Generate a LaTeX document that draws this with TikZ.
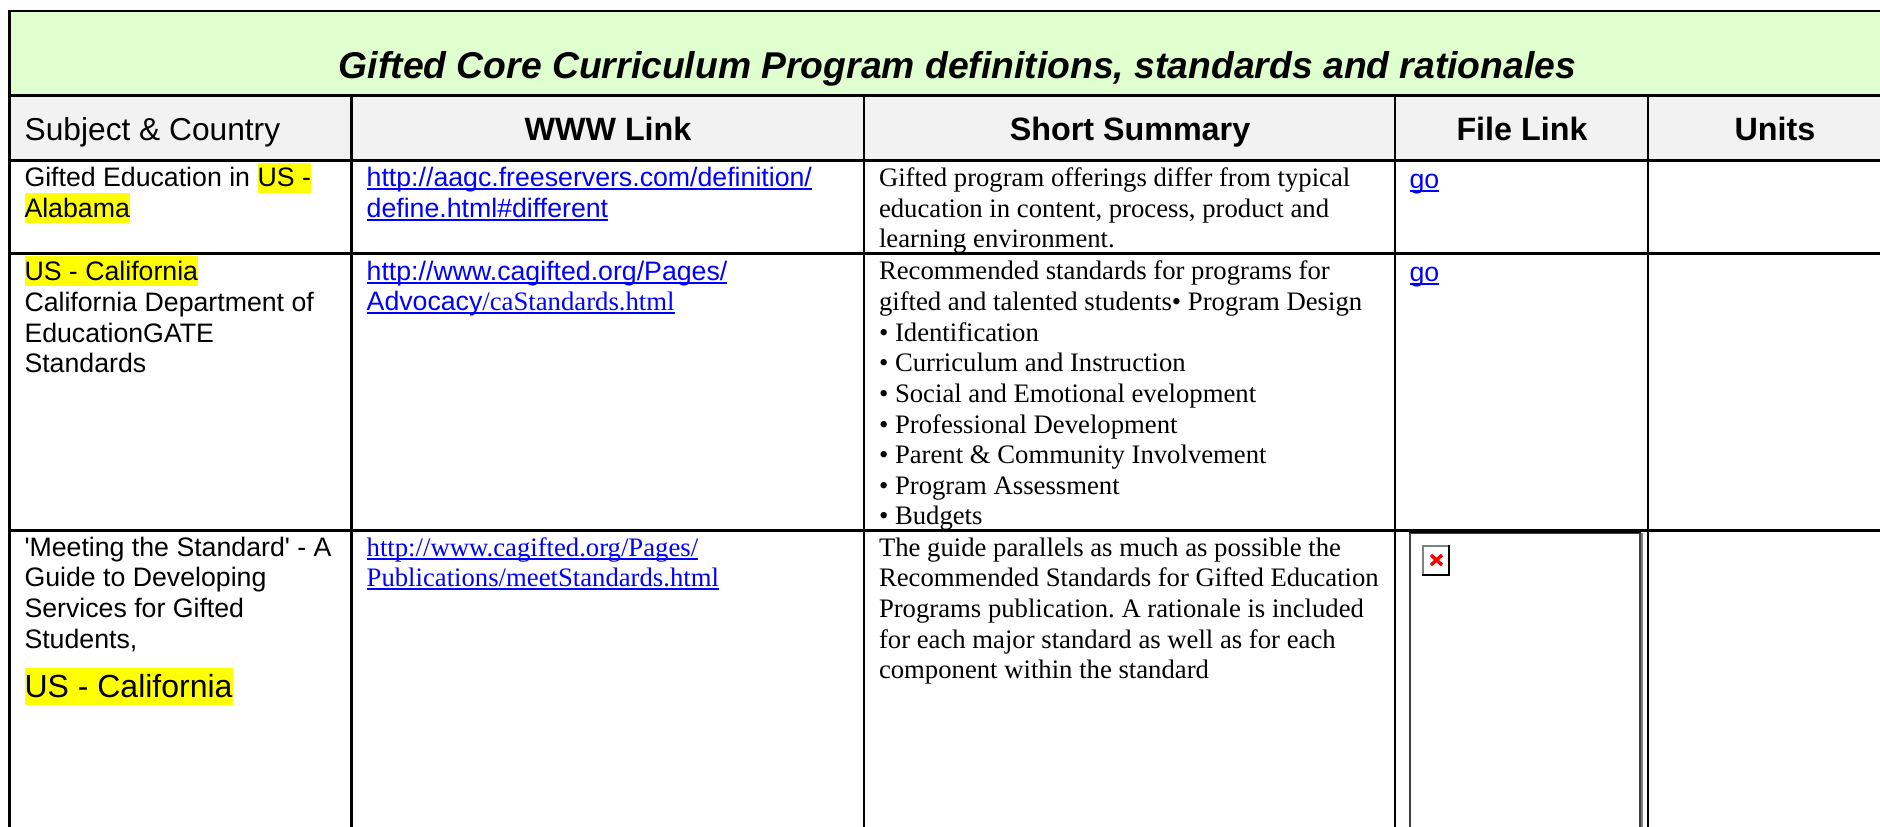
\documentclass[tikz,border=0pt]{standalone}
\usepackage{fontspec}
\setmainfont{Liberation Sans}
\newfontfamily\serifface{Liberation Serif}
\newfontfamily\plainsans{Liberation Sans}
\definecolor{titlegreen}{HTML}{DFFFCF}
\definecolor{headgray}{HTML}{F2F2F2}
\definecolor{linkblue}{HTML}{0000FF}
\definecolor{mark}{HTML}{FFFF00}
\newlength{\myw}
\frenchspacing
\newcommand{\fsz}[1]{\fontsize{#1}{#1}\selectfont}
% underlined link text
\newcommand{\lnk}[1]{\setbox0=\hbox{#1}\myw=\wd0\leavevmode\rlap{\box0}\raisebox{-3.6pt}{\rule{\myw}{2pt}}}
% yellow highlight
\newcommand{\hlt}[3]{\setbox0=\hbox{#1}\myw=\wd0\leavevmode\rlap{\textcolor{mark}{\raisebox{-#2pt}{\rule{\myw}{#3pt}}}}\box0}
\tikzset{
  x=1pt,y=-1pt,
  rule/.style={line width=2.8pt,black},
  txt/.style={anchor=base west,inner sep=0pt,outer sep=0pt,font=\frenchspacing\fsz{26.7}},
  srf/.style={anchor=base west,inner sep=0pt,outer sep=0pt,font=\frenchspacing\serifface\fsz{26.7}},
  lk/.style={anchor=base west,inner sep=0pt,outer sep=0pt,font=\fsz{26.7},text=linkblue},
  lks/.style={anchor=base west,inner sep=0pt,outer sep=0pt,font=\serifface\fsz{26.7},text=linkblue},
  hd/.style={anchor=base,inner sep=0pt,outer sep=0pt,font=\bfseries\fsz{32.3}},
}
\begin{document}
\begin{tikzpicture}
\useasboundingbox (0,0) rectangle (1880,827);
\fill[white] (0,0) rectangle (1880,827);
\fill[titlegreen] (9.4,11) rectangle (1880,95.7);
\fill[headgray] (9.4,95.7) rectangle (1880,160.7);
% grid
\draw[rule] (9.4,827) -- (9.4,11) -- (1880,11);
\foreach \yy in {95.7,160.7,253.7,530.7} \draw[rule] (9.4,\yy) -- (1880,\yy);
\foreach \xx in {351.6,864,1395,1648} \draw[rule] (\xx,95.7) -- (\xx,827);
% title
\node[anchor=base,inner sep=0pt,font=\bfseries\itshape\fsz{37.3}] (title) at (957.5,78) {Gifted Core Curriculum Program definitions, standards and rationales};
% header
\node[anchor=base west,inner sep=0pt,font=\fsz{31.7}] (h1) at (24.5,140) {Subject \& Country};
\node[hd] (h2) at (608,140) {WWW Link};
\node[hd] (h3) at (1130,140) {Short Summary};
\node[hd] (h4) at (1522,140) {File Link};
\node[hd] (h5) at (1775,140) {Units};
% col 1
\node[txt] (a1) at (24.5,186.5) {Gifted Education in \hlt{US -}{6}{30}};
\node[txt] (a2) at (24.5,217) {\hlt{Alabama}{6}{30}};
\node[txt] (b1) at (24.5,280) {\hlt{US - California}{6}{30}};
\node[txt] (b2) at (24.5,311) {California Department of};
\node[txt] (b3) at (24.5,342.5) {EducationGATE};
\node[txt] (b4) at (24.5,372.5) {Standards};
\node[txt] (c1) at (24.5,556) {{\plainsans'}Meeting the Standard{\plainsans'} - A};
\node[txt] (c2) at (24.5,586) {Guide to Developing};
\node[txt] (c3) at (24.5,617) {Services for Gifted};
\node[txt] (c4) at (24.5,648) {Students,};
\node[txt,font=\fsz{32}] (c5) at (24.5,697) {\hlt{US - California}{8}{37}};
% col 2
\node[lk] (d1) at (366.7,186.5) {\lnk{http://aagc.freeservers.com/definition/}};
\node[lk] (d2) at (366.7,217) {\lnk{define.html\#different}};
\node[lk] (e1) at (366.7,280) {\lnk{http://www.cagifted.org/Pages/}};
\node[lk] (e2) at (366.7,310.5) {\lnk{Advocacy{\serifface/caStandards.html}}};
\node[lks] (f1) at (366.7,556) {\lnk{http://www.cagifted.org/Pages/}};
\node[lks] (f2) at (366.7,586) {\lnk{Publications/meetStandards.html}};
% col 3
\node[srf] (g1) at (879,186.5) {Gifted program offerings differ from typical};
\node[srf] (g2) at (879,217) {education in content, process, product and};
\node[srf] (g3) at (879,247.5) {learning environment.};
\node[srf] (i1) at (879,279.5) {Recommended standards for programs for};
\node[srf] (i2) at (879,310) {gifted and talented students• Program Design};
\node[srf] (i3) at (879,341) {• Identification};
\node[srf] (i4) at (879,371.5) {• Curriculum and Instruction};
\node[srf] (i5) at (879,402) {• Social and Emotional evelopment};
\node[srf] (i6) at (879,433) {• Professional Development};
\node[srf] (i7) at (879,463.5) {• Parent \& Community Involvement};
\node[srf] (i8) at (879,494) {• Program Assessment};
\node[srf] (i9) at (879,524.5) {• Budgets};
\node[srf] (j1) at (879,556) {The guide parallels as much as possible the};
\node[srf] (j2) at (879,586.5) {Recommended Standards for Gifted Education};
\node[srf] (j3) at (879,617) {Programs publication. A rationale is included};
\node[srf] (j4) at (879,648) {for each major standard as well as for each};
\node[srf] (j5) at (879,678) {component within the standard};
% col 4
\node[lk] (k1) at (1409.5,188) {\lnk{go}};
\node[lk] (k2) at (1409.5,281.5) {\lnk{go}};
% image frame
\draw[line width=2.4pt,black!75] (1410,827) -- (1410,533) -- (1640,533) -- (1640,827);
\draw[line width=1.8pt,gray] (1642,533) -- (1642,827);
\draw[line width=2pt,black] (1409,531.5) -- (1641,531.5);
% broken image icon
\fill[white] (1423,546) rectangle (1449,575);
\draw[line width=2.4pt,gray] (1423,575) -- (1423,546.2) -- (1449,546.2);
\draw[line width=2.4pt,black] (1422,575) -- (1449,575) -- (1449,545);
\draw[line width=3.4pt,red] (1431,555) -- (1442,565) (1442,555) -- (1431,565);
\end{tikzpicture}
\end{document}
